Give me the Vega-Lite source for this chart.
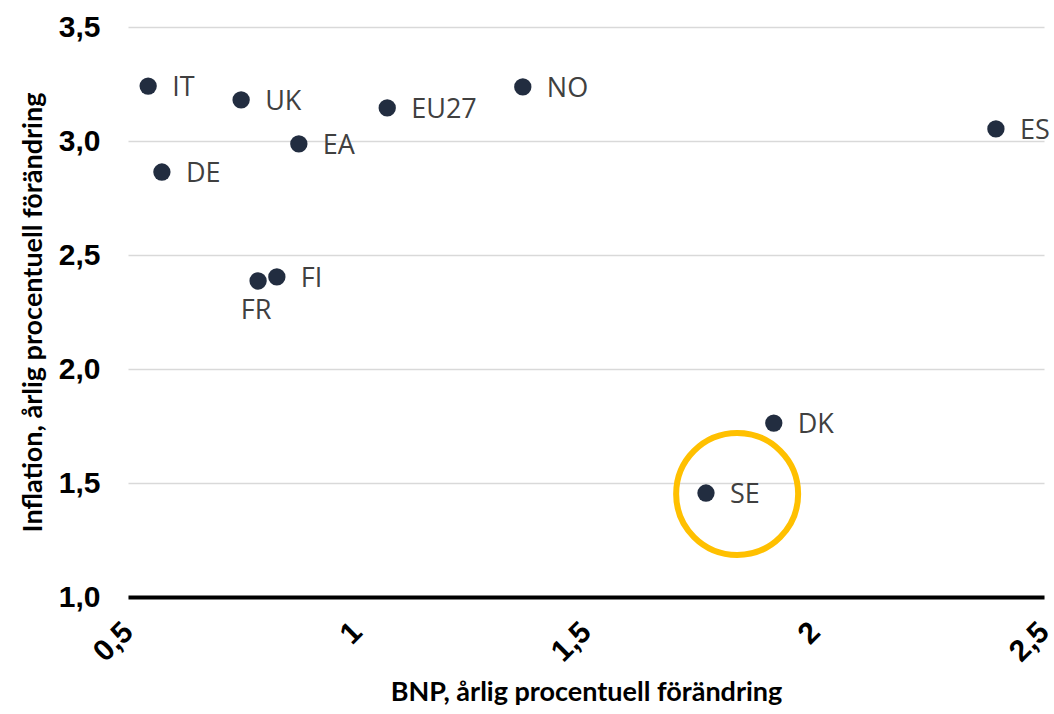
{
  "$schema": "https://vega.github.io/schema/vega-lite/v6.json",
  "width": 916,
  "height": 570,
  "autosize": {"type": "none"},
  "padding": {"left": 128, "top": 27, "right": 10, "bottom": 117},
  "background": "white",
  "datasets": {
    "countries": [
      {"land": "IT", "bnp": 0.544, "inflation": 3.241},
      {"land": "DE", "bnp": 0.574, "inflation": 2.864},
      {"land": "UK", "bnp": 0.747, "inflation": 3.180},
      {"land": "EA", "bnp": 0.873, "inflation": 2.987},
      {"land": "FI", "bnp": 0.825, "inflation": 2.404},
      {"land": "FR", "bnp": 0.784, "inflation": 2.386},
      {"land": "EU27", "bnp": 1.066, "inflation": 3.145},
      {"land": "NO", "bnp": 1.362, "inflation": 3.237},
      {"land": "ES", "bnp": 2.395, "inflation": 3.053},
      {"land": "DK", "bnp": 1.910, "inflation": 1.763},
      {"land": "SE", "bnp": 1.762, "inflation": 1.456}
    ],
    "highlight": [
      {"land": "SE", "bnp": 1.830, "inflation": 1.452}
    ]
  },
  "encoding": {
    "x": {
      "field": "bnp",
      "type": "quantitative",
      "scale": {"domain": [0.5, 2.5], "nice": false, "zero": false},
      "axis": {
        "title": "BNP, årlig procentuell förändring",
        "values": [0.5, 1, 1.5, 2, 2.5],
        "labelExpr": "replace(format(datum.value, '~g'), '.', ',')",
        "labelAngle": -45,
        "labelAlign": "right",
        "labelBaseline": "middle",
        "labelPadding": 30,
        "labelFont": "Liberation Sans",
        "labelFontWeight": "bold",
        "labelFontSize": 30,
        "labelColor": "#000000",
        "labelOverlap": false,
        "labelFlush": false,
        "ticks": false,
        "grid": false,
        "domain": true,
        "domainColor": "#000000",
        "domainWidth": 4,
        "titleFont": "Lato",
        "titleFontWeight": "bold",
        "titleFontSize": 27,
        "titleColor": "#000000",
        "titlePadding": 12
      }
    },
    "y": {
      "field": "inflation",
      "type": "quantitative",
      "scale": {"domain": [1, 3.5], "nice": false, "zero": false},
      "axis": {
        "title": "Inflation, årlig procentuell förändring",
        "values": [1, 1.5, 2, 2.5, 3, 3.5],
        "labelExpr": "replace(format(datum.value, '.1f'), '.', ',')",
        "labelPadding": 28,
        "labelFont": "Liberation Sans",
        "labelFontWeight": "bold",
        "labelFontSize": 30,
        "labelColor": "#000000",
        "labelFlush": false,
        "ticks": false,
        "domain": false,
        "grid": true,
        "gridColor": "#d9d9d9",
        "gridWidth": 1.5,
        "titleFont": "Lato",
        "titleFontWeight": "bold",
        "titleFontSize": 27,
        "titleColor": "#000000",
        "titlePadding": 11
      }
    }
  },
  "layer": [
    {
      "data": {"name": "highlight"},
      "mark": {"type": "point", "shape": "circle", "filled": false, "size": 14884, "stroke": "#FFC000", "strokeWidth": 6, "opacity": 1}
    },
    {
      "data": {"name": "countries"},
      "mark": {"type": "circle", "size": 300, "color": "#222D40", "opacity": 1}
    },
    {
      "data": {"name": "countries"},
      "transform": [{"filter": "datum.land !== 'FR'"}],
      "mark": {"type": "text", "align": "left", "baseline": "middle", "dx": 24, "dy": 2, "font": "Open Sans", "fontSize": 27, "color": "#404040"},
      "encoding": {"text": {"field": "land"}}
    },
    {
      "data": {"name": "countries"},
      "transform": [{"filter": "datum.land === 'FR'"}],
      "mark": {"type": "text", "align": "center", "baseline": "middle", "dx": -2, "dy": 30, "font": "Open Sans", "fontSize": 27, "color": "#404040"},
      "encoding": {"text": {"field": "land"}}
    }
  ],
  "config": {
    "view": {"stroke": null}
  }
}
